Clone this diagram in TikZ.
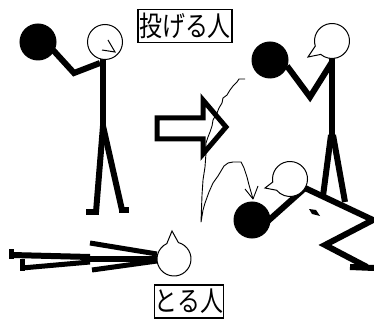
\documentclass[tikz,border=0pt]{standalone}
\usepackage{fontspec}
\newfontfamily\jpfont{Noto Sans CJK JP}
\begin{document}
\begin{tikzpicture}[x=1pt,y=-1pt,
  limb/.style={line width=6pt, line join=miter},
  slimlimb/.style={line width=5pt},
  ball/.style={fill=black, draw=black, line width=1pt},
  head/.style={draw=black, fill=white, line width=1pt},
  namebox/.style={draw=black, line width=1.2pt, inner sep=0pt,
    minimum width=#1, minimum height=33pt,
    font=\jpfont\fontsize{28}{28}\selectfont},
  traj/.style={line width=0.9pt, line join=round}]
\useasboundingbox (0,0) rectangle (374,320);
\fill[white] (0,0) rectangle (374,320);

% labels
\node[namebox=94pt] (thrower) at (185,26) {\scalebox{0.82}[1]{投げる人}};
\node[namebox=68pt] (catcher) at (189,301.5) {\scalebox{0.82}[1]{とる人}};

% standing thrower, upper left
\draw[limb] (53,50) -- (74,73) -- (100,63);
\draw[ball] (38,42) circle[radius=18];
\draw[limb] (103,58) -- (103,128);
\draw[limb] (103,126) -- (96,212);
\draw[limb] (86,212) -- (99,212);
\draw[limb] (103,126) -- (122,210);
\draw[limb] (119,210) -- (129,210);
\draw[head] (105,42) circle[radius=17.5];
\draw[line width=1pt] (108,40) -- (115,52) -- (102,50);

% hollow arrow
\draw[line width=5pt, fill=white, line join=miter]
  (157,118) -- (203,118) -- (203,100) -- (226,127) -- (203,154) -- (203,139) -- (157,139) -- cycle;

% standing thrower, upper right
\draw[limb] (287,66) -- (310,97) -- (332,62);
\draw[ball] (270,60) circle[radius=18];
\draw[limb] (332,58) -- (332,137);
\draw[limb] (331,135) -- (323,196);
\draw[limb] (333,135) -- (345,202);
\draw[head, shift={(332,41)}] (163:17.5) arc[start angle=163, end angle=490, radius=17.5] -- (-24,16) -- cycle;

% crouching catcher
\draw[limb] (305,188) -- (373,220) -- (325,245) -- (367,267);
\draw[limb] (350,267) -- (374,268);
\draw[limb] (305,188) -- (268,221);
\draw[ball] (252,220) circle[radius=18];
\fill (309,209) -- (316,210) -- (320,216) -- (312,214) -- cycle;
\draw[head, shift={(290,179)}] (170:17.5) arc[start angle=170, end angle=500, radius=17.5] -- (-25,9) -- cycle;

% lying figure
\draw[slimlimb] (90,243) -- (157,254);
\draw[limb] (90,259) -- (157,259);
\draw[slimlimb] (92,270) -- (157,261);
\draw[limb] (90,257) -- (12,255);
\draw[slimlimb] (11,249) -- (11,259);
\draw[slimlimb] (90,262) -- (22,268);
\draw[slimlimb] (22,259) -- (22,271);
\draw[head, shift={(174,259)}] (285:17) arc[start angle=285, end angle=605, radius=17] -- (-2,-28) -- cycle;

% flight path of the ball
\draw[traj] (245,79) -- (239,79) -- (237,82) -- (233,86) -- (230,90) -- (227,95) -- (223,98)
  -- (222,103) -- (219,108) -- (217,113) -- (213,120) -- (212,126) -- (210,132) -- (208,137)
  -- (206,143) -- (206,153) -- (205,167) -- (203,180) -- (202,195) -- (201,222)
  -- (203,210) -- (205,203) -- (209,192) -- (213,183) -- (218,176) -- (221,171) -- (224,166)
  -- (228,163) -- (233,162) -- (241,162) -- (244,168) -- (247,177) -- (249,185) -- (251,192) -- (253,199);
\draw[traj] (245,189) -- (253,199) -- (258,186);
\end{tikzpicture}
\end{document}
